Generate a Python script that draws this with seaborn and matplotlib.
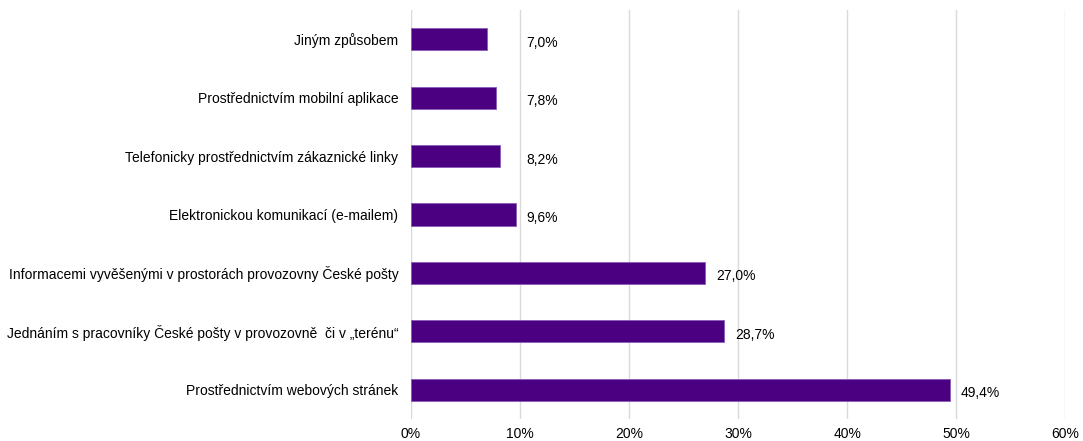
import matplotlib
matplotlib.use("Agg")
import matplotlib.pyplot as plt
import seaborn as sns
import pandas as pd

categories = [
    "Jiným způsobem",
    "Prostřednictvím mobilní aplikace",
    "Telefonicky prostřednictvím zákaznické linky",
    "Elektronickou komunikací (e-mailem)",
    "Informacemi vyvěšenými v prostorách provozovny České pošty",
    "Jednáním s pracovníky České pošty v provozovně  či v „terénu“",
    "Prostřednictvím webových stránek",
]
values = [7.0, 7.8, 8.2, 9.6, 27.0, 28.7, 49.4]
x_ticks = [0, 10, 20, 30, 40, 50, 60]

df = pd.DataFrame({"kategorie": categories, "podil": values})

sns.set_theme(style="white")
plt.rcParams["font.family"] = ["Liberation Sans", "DejaVu Sans"]

fig = plt.figure(figsize=(10.83, 4.41), dpi=100)
ax = fig.add_axes([0.3795, 0.05, 0.604, 0.927])

sns.barplot(data=df, x="podil", y="kategorie", orient="h", color="#4B0082",
            saturation=1, width=0.38, edgecolor="#8A5CB8", linewidth=0.6,
            ax=ax, zorder=3)

ax.set_xlim(0, 60)
ax.set_ylim(len(categories) - 0.5, -0.5)
ax.set_xticks(x_ticks)
ax.set_xticklabels([f"{t}%" for t in x_ticks])
ax.grid(axis="x", color="#D9D9D9", linewidth=1, zorder=0)
ax.grid(axis="y", visible=False)
for s in ax.spines.values():
    s.set_visible(False)
ax.tick_params(axis="both", length=0, labelsize=10, colors="#000000")
ax.tick_params(axis="y", pad=9)
ax.tick_params(axis="x", pad=6)
ax.set_xlabel("")
ax.set_ylabel("")

for i, v in enumerate(values):
    lx = max(v + 1.0, 10.6)
    ax.text(lx, i + 0.06, f"{v:.1f}%".replace(".", ","), va="center",
            ha="left", fontsize=10, color="#000000")

fig.savefig("out.png", dpi=100)
